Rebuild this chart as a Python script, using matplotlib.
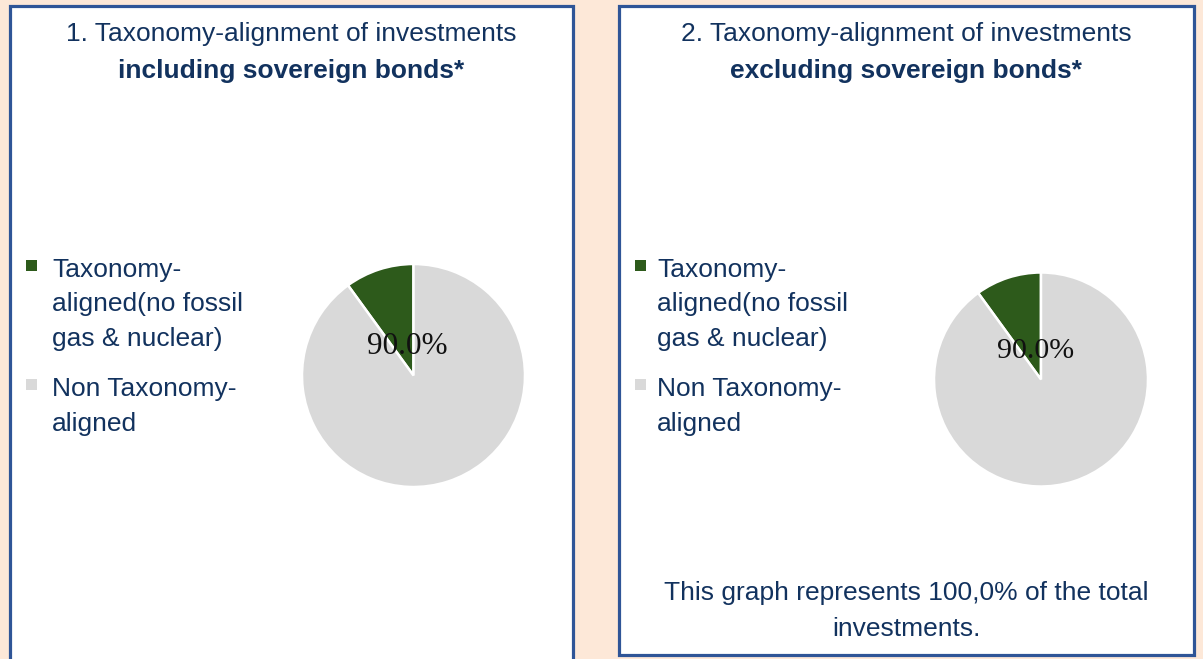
import matplotlib
matplotlib.use("Agg")
import matplotlib.pyplot as plt
from matplotlib.patches import Rectangle

# Daten
labels = ["Taxonomy-\naligned(no fossil\ngas & nuclear)", "Non Taxonomy-\naligned"]
incl_values = [10.0, 90.0]
excl_values = [10.0, 90.0]
titles_top = ["1. Taxonomy-alignment of investments", "2. Taxonomy-alignment of investments"]
titles_bold = ["including sovereign bonds*", "excluding sovereign bonds*"]
footer = "This graph represents 100,0% of the total\ninvestments."

colors = ["#2D5A1B", "#D9D9D9"]
navy = "#12325E"
border = "#2F5597"
peach = "#FDE8D8"

W, H = 1203, 659
fig = plt.figure(figsize=(W / 100, H / 100), dpi=100)
fig.patch.set_facecolor(peach)


def fx(x):
    return x / W


def fy(y):
    return 1 - y / H


def box(x0, y0, x1, y1):
    fig.patches.append(Rectangle((fx(x0), fy(y1)), fx(x1) - fx(x0), fy(y0) - fy(y1),
                                 transform=fig.transFigure, facecolor="white",
                                 edgecolor=border, linewidth=2.3, zorder=-5))


box(9.5, 6, 573, 720)
box(618.5, 6, 1194, 655)

font = "Liberation Sans"
fs = 19

panels = [
    dict(values=incl_values, cx=413.5, cy=375.5, r=111.5, tx=291, lx=52, mx=31, pfs=22.5),
    dict(values=excl_values, cx=1041, cy=379.5, r=107, tx=906, lx=657, mx=640, pfs=21.5),
]

for i, p in enumerate(panels):
    fig.text(fx(p["tx"]), fy(41), titles_top[i], ha="center", va="baseline",
             fontsize=fs, color=navy, family=font)
    fig.text(fx(p["tx"]), fy(78), titles_bold[i], ha="center", va="baseline",
             fontsize=fs, color=navy, family=font, fontweight="bold")

    # Kuchen
    pad = 1.03
    r = p["r"] * pad
    ax = fig.add_axes([fx(p["cx"] - r), fy(p["cy"] + r), 2 * r / W, 2 * r / H])
    ax.set_zorder(2)
    ax.patch.set_alpha(0)
    vals = p["values"]
    ax.pie(vals, colors=colors, startangle=90, counterclock=True,
           wedgeprops=dict(edgecolor="white", linewidth=1.8))
    ax.set_xlim(-pad, pad)
    ax.set_ylim(-pad, pad)
    ax.set_aspect("equal")
    ax.axis("off")
    pct = vals[1] / sum(vals) * 100
    ax.text(-0.055, 0.197, f"{pct:.1f}%", ha="center", va="baseline",
            fontsize=p["pfs"], family="Liberation Serif", color="#111111")

    # Legende
    y = 277
    for lab, col in zip(labels, colors):
        lines = lab.split("\n")
        ms = 11
        fig.patches.append(Rectangle((fx(p["mx"] - ms / 2), fy(y - 12 + ms / 2)),
                                     ms / W, ms / H, transform=fig.transFigure,
                                     facecolor=col, edgecolor="none"))
        for ln in lines:
            fig.text(fx(p["lx"]), fy(y), ln, ha="left", va="baseline",
                     fontsize=fs, color=navy, family=font)
            y += 34.5
        y += 15.5

fy0 = 600
for ln in footer.split("\n"):
    fig.text(fx(906), fy(fy0), ln, ha="center", va="baseline",
             fontsize=fs, color=navy, family=font)
    fy0 += 36

fig.savefig("out.png", dpi=100, facecolor=peach)
